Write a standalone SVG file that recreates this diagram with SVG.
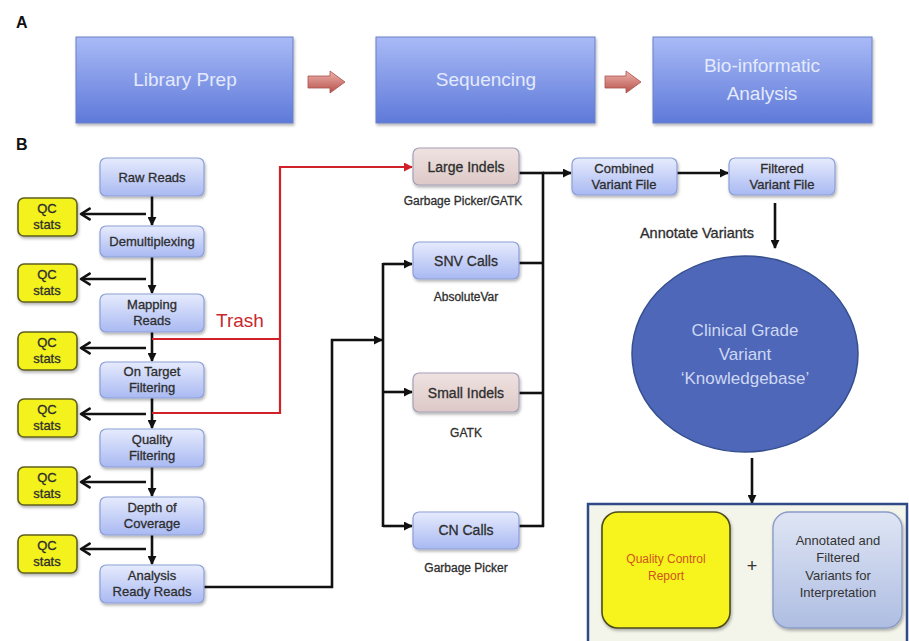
<svg xmlns="http://www.w3.org/2000/svg" width="909" height="641" viewBox="0 0 909 641">
  <defs>
    <linearGradient id="gA" x1="0" y1="0" x2="0" y2="1">
      <stop offset="0" stop-color="#a9baf6"/>
      <stop offset="1" stop-color="#5e79d9"/>
    </linearGradient>
    <linearGradient id="gBlue" x1="0" y1="0" x2="0" y2="1">
      <stop offset="0" stop-color="#e6ebfd"/>
      <stop offset="1" stop-color="#a9b9f2"/>
    </linearGradient>
    <linearGradient id="gPink" x1="0" y1="0" x2="0" y2="1">
      <stop offset="0" stop-color="#eee2e0"/>
      <stop offset="1" stop-color="#ddc9c7"/>
    </linearGradient>
    <linearGradient id="gRed" x1="0" y1="0" x2="0" y2="1">
      <stop offset="0" stop-color="#f0b3ad"/>
      <stop offset="1" stop-color="#b5514b"/>
    </linearGradient>
    <linearGradient id="gVar" x1="0" y1="0" x2="0" y2="1">
      <stop offset="0" stop-color="#dfe5f4"/>
      <stop offset="1" stop-color="#aebde2"/>
    </linearGradient>
    <filter id="sh" x="-10%" y="-10%" width="130%" height="140%">
      <feDropShadow dx="1" dy="2" stdDeviation="1.5" flood-color="#000" flood-opacity="0.3"/>
    </filter>
    <marker id="ah" viewBox="0 0 10 10" refX="9" refY="5" markerWidth="9" markerHeight="9" markerUnits="userSpaceOnUse" orient="auto">
      <path d="M0,0 L10,5 L0,10 z" fill="#111"/>
    </marker>
    <marker id="ahr" viewBox="0 0 10 10" refX="9" refY="5" markerWidth="9" markerHeight="9" markerUnits="userSpaceOnUse" orient="auto">
      <path d="M0,0 L10,5 L0,10 z" fill="#d0202a"/>
    </marker>
    <!-- open chevron used on the QC side outputs -->
    <marker id="ahq" viewBox="0 0 12 12" refX="10" refY="6" markerWidth="13" markerHeight="13" markerUnits="userSpaceOnUse" orient="auto" overflow="visible">
      <path d="M2,1 L10,6 L2,11" fill="none" stroke="#111" stroke-width="2.4" stroke-linecap="round" stroke-linejoin="round"/>
    </marker>
    <style>
      text { font-family: "Liberation Sans", "Noto Sans", Arial, sans-serif; text-anchor: middle; }
      .lab { font-weight: bold; font-size: 16px; text-anchor: start; fill: #111; }
      .big { fill: url(#gA); stroke: #6a80c8; stroke-width: 1; filter: url(#sh); }
      .bigt { font-size: 19px; fill: #e4eafc; }
      .step { fill: url(#gBlue); stroke: #8d9fd6; stroke-width: 1.2; filter: url(#sh); }
      .pink { fill: url(#gPink); stroke: #a5a0b8; stroke-width: 1.2; filter: url(#sh); }
      .qc { fill: #f4f21c; stroke: #5f5f20; stroke-width: 1.6; filter: url(#sh); }
      .t, .tm, .tool, .ann { fill: #2e2e2e; stroke: #2e2e2e; stroke-width: 0.3; }
      .t { font-size: 13px; }
      .tm { font-size: 14px; }
      .tool { font-size: 12px; }
      .ann { font-size: 14.5px; }
      .wire { fill: none; stroke: #111; stroke-width: 2.6; }
      .red { fill: none; stroke: #d0202a; stroke-width: 2.2; }
      .blk { fill: url(#gRed); stroke: #a8504a; stroke-width: 0.8; }
    </style>
  </defs>

  <rect width="909" height="641" fill="#ffffff"/>

  <!-- Panel A: workflow overview -->
  <text class="lab" x="16" y="28">A</text>
  <g id="libraryPrep">
    <rect class="big" x="76" y="37" width="217" height="86"/>
    <text class="bigt" x="185" y="86">Library Prep</text>
  </g>
  <g id="sequencing">
    <rect class="big" x="376" y="37" width="219" height="86"/>
    <text class="bigt" x="486" y="86">Sequencing</text>
  </g>
  <g id="bioinformatic">
    <rect class="big" x="653" y="37" width="219" height="86"/>
    <text class="bigt" x="762" y="72">Bio-informatic</text>
    <text class="bigt" x="762" y="100">Analysis</text>
  </g>
  <g id="blockArrows">
    <polygon class="blk" points="308,76 330,76 330,71 345,82 330,93 330,88 308,88"/>
    <polygon class="blk" points="605,76 626,76 626,71 641,82 626,93 626,88 605,88"/>
  </g>

  <!-- Panel B: analysis pipeline -->
  <text class="lab" x="16" y="150">B</text>

  <g id="connectors">
    <!-- main column -->
    <line class="wire" x1="152" y1="196" x2="152" y2="225" marker-end="url(#ah)"/>
    <line class="wire" x1="152" y1="257" x2="152" y2="293" marker-end="url(#ah)"/>
    <line class="wire" x1="152" y1="332" x2="152" y2="361" marker-end="url(#ah)"/>
    <line class="wire" x1="152" y1="398" x2="152" y2="428" marker-end="url(#ah)"/>
    <line class="wire" x1="152" y1="467" x2="152" y2="496" marker-end="url(#ah)"/>
    <line class="wire" x1="152" y1="535" x2="152" y2="564" marker-end="url(#ah)"/>
    <!-- QC side outputs -->
    <line class="wire" x1="146" y1="214" x2="81" y2="214" marker-end="url(#ahq)"/>
    <line class="wire" x1="146" y1="279" x2="81" y2="279" marker-end="url(#ahq)"/>
    <line class="wire" x1="146" y1="348" x2="81" y2="348" marker-end="url(#ahq)"/>
    <line class="wire" x1="146" y1="414" x2="81" y2="414" marker-end="url(#ahq)"/>
    <line class="wire" x1="146" y1="482" x2="81" y2="482" marker-end="url(#ahq)"/>
    <line class="wire" x1="146" y1="549" x2="81" y2="549" marker-end="url(#ahq)"/>
    <!-- trash path to large indels -->
    <polyline class="red" points="152,339 280,339"/>
    <polyline class="red" points="152,413 280,413 280,167 412,167" marker-end="url(#ahr)"/>
    <!-- analysis ready reads to callers -->
    <polyline class="wire" points="204,587 332,587 332,340 382,340" marker-end="url(#ah)"/>
    <line class="wire" x1="383" y1="263" x2="383" y2="527"/>
    <line class="wire" x1="383" y1="264" x2="412" y2="264" marker-end="url(#ah)"/>
    <line class="wire" x1="383" y1="392" x2="412" y2="392" marker-end="url(#ah)"/>
    <line class="wire" x1="383" y1="526" x2="412" y2="526" marker-end="url(#ah)"/>
    <!-- callers merge -->
    <line class="wire" x1="519" y1="173" x2="544" y2="173"/>
    <line class="wire" x1="519" y1="263" x2="544" y2="263"/>
    <line class="wire" x1="519" y1="393" x2="544" y2="393"/>
    <line class="wire" x1="519" y1="526" x2="544" y2="526"/>
    <line class="wire" x1="543" y1="172" x2="543" y2="527"/>
    <line class="wire" x1="543" y1="173" x2="571" y2="173" marker-end="url(#ah)"/>
    <!-- variant files and annotation -->
    <line class="wire" x1="677" y1="173" x2="728" y2="173" marker-end="url(#ah)"/>
    <line class="wire" x1="775" y1="203" x2="775" y2="248" marker-end="url(#ah)"/>
    <line class="wire" x1="752" y1="458" x2="752" y2="503" marker-end="url(#ah)"/>
  </g>

  <g id="rawReads">
    <rect class="step" x="100" y="158" width="104" height="38" rx="6"/>
    <text class="t" x="152" y="182">Raw Reads</text>
  </g>
  <g id="demultiplexing">
    <rect class="step" x="100" y="226" width="104" height="31" rx="6"/>
    <text class="t" x="152" y="246">Demultiplexing</text>
  </g>
  <g id="mappingReads">
    <rect class="step" x="100" y="294" width="104" height="38" rx="6"/>
    <text class="t" x="152" y="309">Mapping</text>
    <text class="t" x="152" y="325">Reads</text>
  </g>
  <g id="onTarget">
    <rect class="step" x="100" y="362" width="104" height="36" rx="6"/>
    <text class="t" x="152" y="376">On Target</text>
    <text class="t" x="152" y="392">Filtering</text>
  </g>
  <g id="qualityFiltering">
    <rect class="step" x="100" y="429" width="104" height="38" rx="6"/>
    <text class="t" x="152" y="444">Quality</text>
    <text class="t" x="152" y="460">Filtering</text>
  </g>
  <g id="depthOfCoverage">
    <rect class="step" x="100" y="497" width="104" height="38" rx="6"/>
    <text class="t" x="152" y="512">Depth of</text>
    <text class="t" x="152" y="528">Coverage</text>
  </g>
  <g id="analysisReady">
    <rect class="step" x="100" y="565" width="104" height="38" rx="6"/>
    <text class="t" x="152" y="580">Analysis</text>
    <text class="t" x="152" y="596">Ready Reads</text>
  </g>

  <g id="qc1">
    <rect class="qc" x="18" y="198" width="59" height="38" rx="6"/>
    <text class="t" x="47" y="213">QC</text>
    <text class="t" x="47" y="229">stats</text>
  </g>
  <g id="qc2">
    <rect class="qc" x="18" y="264" width="59" height="38" rx="6"/>
    <text class="t" x="47" y="279">QC</text>
    <text class="t" x="47" y="295">stats</text>
  </g>
  <g id="qc3">
    <rect class="qc" x="18" y="332" width="59" height="38" rx="6"/>
    <text class="t" x="47" y="347">QC</text>
    <text class="t" x="47" y="363">stats</text>
  </g>
  <g id="qc4">
    <rect class="qc" x="18" y="399" width="59" height="38" rx="6"/>
    <text class="t" x="47" y="414">QC</text>
    <text class="t" x="47" y="430">stats</text>
  </g>
  <g id="qc5">
    <rect class="qc" x="18" y="467" width="59" height="38" rx="6"/>
    <text class="t" x="47" y="482">QC</text>
    <text class="t" x="47" y="498">stats</text>
  </g>
  <g id="qc6">
    <rect class="qc" x="18" y="535" width="59" height="38" rx="6"/>
    <text class="t" x="47" y="550">QC</text>
    <text class="t" x="47" y="566">stats</text>
  </g>

  <text x="240" y="327" font-size="19" fill="#c8282e">Trash</text>

  <g id="largeIndels">
    <rect class="pink" x="413" y="148" width="106" height="37" rx="6"/>
    <text class="tm" x="466" y="172">Large Indels</text>
    <text class="tool" x="463" y="205">Garbage Picker/GATK</text>
  </g>
  <g id="snvCalls">
    <rect class="step" x="413" y="242" width="106" height="37" rx="6"/>
    <text class="tm" x="466" y="266">SNV Calls</text>
    <text class="tool" x="466" y="301">AbsoluteVar</text>
  </g>
  <g id="smallIndels">
    <rect class="pink" x="413" y="373" width="106" height="39" rx="6"/>
    <text class="tm" x="466" y="398">Small Indels</text>
    <text class="tool" x="466" y="437">GATK</text>
  </g>
  <g id="cnCalls">
    <rect class="step" x="413" y="512" width="106" height="37" rx="6"/>
    <text class="tm" x="466" y="535">CN Calls</text>
    <text class="tool" x="466" y="572">Garbage Picker</text>
  </g>

  <g id="combinedVariant">
    <rect class="step" x="572" y="158" width="105" height="37" rx="6"/>
    <text class="t" x="624" y="173">Combined</text>
    <text class="t" x="624" y="189">Variant File</text>
  </g>
  <g id="filteredVariant">
    <rect class="step" x="729" y="158" width="106" height="37" rx="6"/>
    <text class="t" x="782" y="173">Filtered</text>
    <text class="t" x="782" y="189">Variant File</text>
  </g>

  <text class="ann" x="697" y="238">Annotate Variants</text>

  <g id="knowledgebase">
    <ellipse cx="745" cy="354" rx="113" ry="98" fill="#4f67b8" stroke="#36508f" stroke-width="1.5"/>
    <text x="745" y="336" font-size="17" fill="#cdd8f4">Clinical Grade</text>
    <text x="745" y="360" font-size="17" fill="#cdd8f4">Variant</text>
    <text x="745" y="384" font-size="17" fill="#cdd8f4">‘Knowledgebase’</text>
  </g>

  <g id="report">
    <rect x="588" y="504" width="319" height="150" fill="#f3f4ea" stroke="#2f4a86" stroke-width="2.5"/>
    <rect x="602" y="512" width="128" height="116" rx="16" fill="#f6f41c" stroke="#4b4b1a" stroke-width="1.6" filter="url(#sh)"/>
    <text x="666" y="563" font-size="12" fill="#d0551e">Quality Control</text>
    <text x="666" y="580" font-size="12" fill="#d0551e">Report</text>
    <text x="752" y="572" font-size="18" fill="#333">+</text>
    <rect x="773" y="512" width="129" height="116" rx="16" fill="url(#gVar)" stroke="#8b9cc6" stroke-width="1.4" filter="url(#sh)"/>
    <text x="838" y="545" font-size="13" fill="#333">Annotated and</text>
    <text x="838" y="562" font-size="13" fill="#333">Filtered</text>
    <text x="838" y="580" font-size="13" fill="#333">Variants for</text>
    <text x="838" y="597" font-size="13" fill="#333">Interpretation</text>
  </g>
</svg>
